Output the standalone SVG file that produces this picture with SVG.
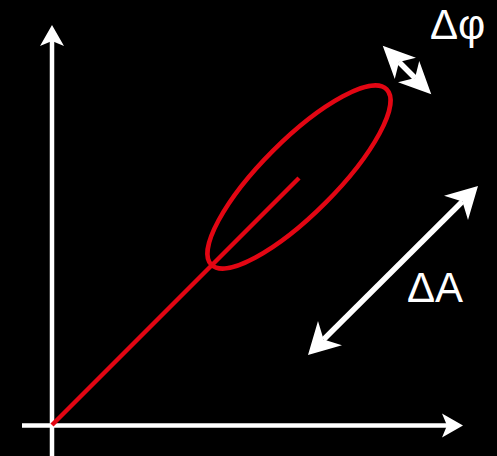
<svg xmlns="http://www.w3.org/2000/svg" width="497" height="456" viewBox="0 0 497 456">
<style>
.axis{stroke:#fff;stroke-width:4.5;fill:none}
.dbl{stroke:#fff;stroke-width:5.5;fill:none}
.red{stroke:#e30613;stroke-width:4.5;fill:none}
.lbl{fill:#fff;font-family:"Liberation Sans",Arial,sans-serif;font-size:42px}
</style>
<defs>
<marker id="headAx" markerUnits="userSpaceOnUse" orient="auto" refX="0" refY="0" markerWidth="40" markerHeight="40" overflow="visible">
<path d="M16,0 L-5,-12 L0,0 L-5,12 Z" fill="#fff"/>
</marker>
<marker id="headA" markerUnits="userSpaceOnUse" orient="auto-start-reverse" refX="0" refY="0" markerWidth="60" markerHeight="60" overflow="visible">
<path d="M22,0 L-9,-17 L0,0 L-9,17 Z" fill="#fff"/>
</marker>
<marker id="headP" markerUnits="userSpaceOnUse" orient="auto-start-reverse" refX="0" refY="0" markerWidth="60" markerHeight="60" overflow="visible">
<path d="M23,0 L-9,-15 L0,0 L-9,15 Z" fill="#fff"/>
</marker>
</defs>
<rect width="497" height="456" fill="#000"/>
<g id="connectors">
<line id="y-axis" class="axis" x1="52" y1="456" x2="52" y2="41" marker-end="url(#headAx)"/>
<line id="x-axis" class="axis" x1="22" y1="425.5" x2="447" y2="425.5" marker-end="url(#headAx)"/>
<line id="trace" class="red" x1="52" y1="425" x2="299" y2="178"/>
<line id="dA-arrow" class="dbl" x1="323.6" y1="339.5" x2="462.4" y2="201.5" marker-start="url(#headA)" marker-end="url(#headA)"/>
<line id="dphi-arrow" class="dbl" x1="399" y1="62" x2="415" y2="78" marker-start="url(#headP)" marker-end="url(#headP)"/>
</g>
<g id="ellipse-node">
<ellipse class="red" cx="299" cy="177" rx="124" ry="37" transform="rotate(-45 299 177)"/>
</g>
<g id="label-dphi">
<text class="lbl" x="430" y="39">Δφ</text>
</g>
<g id="label-dA">
<text class="lbl" x="407" y="302">ΔA</text>
</g>
</svg>
